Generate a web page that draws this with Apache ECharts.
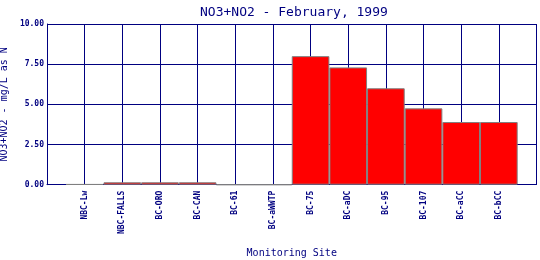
<!DOCTYPE html>
<html>
<head>
<meta charset="utf-8">
<script src="https://cdn.jsdelivr.net/npm/echarts@6/dist/echarts.min.js"></script>
<style>html,body{margin:0;padding:0;background:#fff}#c{width:540px;height:260px}</style>
</head>
<body>
<div id="c"></div>
<script>
const categories = ["NBC-Lw","NBC-FALLS","BC-ORO","BC-CAN","BC-61","BC-aWWTP","BC-75","BC-aDC","BC-95","BC-107","BC-aCC","BC-bCC"];
const values = [0.03, 0.15, 0.15, 0.15, 0, 0, 8.0, 7.3, 6.0, 4.75, 3.9, 3.9];
const yTicks = [0, 2.5, 5, 7.5, 10];

const NAVY = '#000080';
const FONT = 'DejaVu Sans Mono';
// pad one empty slot on each side so sites sit at 1..12 of a 0..13 range
const xCats = [''].concat(categories, ['']);
const yData = [null].concat(values, [null]);

const chart = echarts.init(document.getElementById('c'));
chart.setOption({
  animation: false,
  backgroundColor: '#fff',
  title: {
    text: 'NO3+NO2 - February, 1999',
    left: 195, top: 1,
    textStyle: { color: NAVY, fontFamily: FONT, fontSize: 13, fontWeight: 'normal' }
  },
  grid: { left: 47, right: 3.5, top: 24, bottom: 75.3, containLabel: false, outerBoundsMode: 'none' },
  xAxis: {
    type: 'category',
    data: xCats,
    boundaryGap: false,
    name: 'Monitoring Site',
    nameLocation: 'middle',
    nameGap: 64,
    nameTextStyle: { color: NAVY, fontFamily: FONT, fontSize: 10 },
    axisLine: { show: true, lineStyle: { color: NAVY, width: 1 } },
    axisTick: { show: false },
    axisLabel: { interval: 0, rotate: 90, margin: 6, color: NAVY, fontFamily: FONT, fontSize: 8, fontWeight: 'bold' },
    splitLine: { show: true, interval: 0, lineStyle: { color: NAVY, width: 1 } }
  },
  yAxis: {
    type: 'value',
    min: yTicks[0], max: yTicks[yTicks.length - 1], interval: yTicks[1] - yTicks[0],
    name: 'NO3+NO2 - mg/L as N',
    nameLocation: 'middle',
    nameGap: 33,
    nameTextStyle: { color: NAVY, fontFamily: FONT, fontSize: 10 },
    axisLine: { show: true, lineStyle: { color: NAVY, width: 1 } },
    axisTick: { show: false },
    axisLabel: { margin: 3, color: NAVY, fontFamily: FONT, fontSize: 8, fontWeight: 'bold',
      formatter: v => v.toFixed(2) },
    splitLine: { show: true, lineStyle: { color: NAVY, width: 1 } }
  },
  series: [{
    type: 'bar',
    data: yData,
    barWidth: '100%',
    itemStyle: { color: '#ff0000', borderColor: '#808080', borderWidth: 1 }
  }]
});
</script>
</body>
</html>
